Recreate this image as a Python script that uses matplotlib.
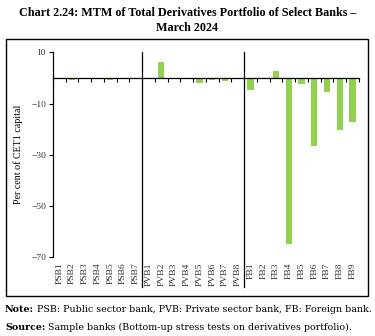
import numpy as np
import matplotlib
matplotlib.use("Agg")
import matplotlib.pyplot as plt
from matplotlib.patches import Rectangle

banks = ["PSB1", "PSB2", "PSB3", "PSB4", "PSB5", "PSB6", "PSB7",
         "PVB1", "PVB2", "PVB3", "PVB4", "PVB5", "PVB6", "PVB7", "PVB8",
         "FB1", "FB2", "FB3", "FB4", "FB5", "FB6", "FB7", "FB8", "FB9"]
mtm = [-0.5, -0.9, 0.0, 0.0, -0.7, 0.0, 0.0,
       0.0, 6.2, -0.5, 0.0, -2.0, -0.8, -1.2, 0.0,
       -4.6, 0.0, 2.6, -65.0, -2.2, -26.4, -5.5, -20.5, -17.2]
group_sizes = [7, 8, 9]
yticks = [10, -10, -30, -50, -70]

plt.rcParams['font.family'] = ['Liberation Serif', 'DejaVu Serif']

fig = plt.figure(figsize=(3.75, 3.36), dpi=100)
ax = fig.add_axes([0.1413, 0.2342, 0.8157, 0.6101])

x = np.arange(len(banks))
ax.bar(x, mtm, width=0.48, color="#92D050", zorder=2)

ax.set_xlim(-0.5, len(banks) - 0.5)
ax.set_ylim(-70, 10)
ax.set_yticks(yticks)
ax.tick_params(axis="y", labelsize=6.8, length=3, width=0.8, pad=2,
               labelcolor="#333333")
ax.set_ylabel("Per cent of CET1 capital", fontsize=7.2, labelpad=6)

for s in ["top", "right"]:
    ax.spines[s].set_visible(False)
ax.spines["bottom"].set_position(("data", 0))
ax.spines["bottom"].set_linewidth(0.9)
ax.spines["left"].set_linewidth(0.9)
ax.set_xticks(np.arange(-0.5, len(banks), 1.0))
ax.set_xticklabels([])
ax.tick_params(axis="x", direction="out", length=3, width=0.8)

# bank names along the bottom
trans = ax.get_xaxis_transform()
for xi, name in zip(x, banks):
    ax.text(xi, -0.025, name, transform=trans, rotation=90, ha="center",
            va="top", fontsize=6.8, color="#333333")

# group separators
edges = np.cumsum(group_sizes)[:-1] - 0.5
for e in edges:
    ax.plot([e, e], [-0.145, 1.0], transform=trans, color="black",
            lw=0.9, clip_on=False, zorder=3)

# outer frame
fig.patches.append(Rectangle((6 / 375, 1 - 296 / 336), 362 / 375, 257 / 336,
                             transform=fig.transFigure, fill=False,
                             edgecolor="black", lw=1.0))

fig.text(0.5, 1 - 13 / 336,
         "Chart 2.24: MTM of Total Derivatives Portfolio of Select Banks \u2013",
         ha="center", va="center", fontsize=8.7, fontweight="bold")
fig.text(0.5, 1 - 28 / 336, "March 2024", ha="center", va="center",
         fontsize=8.7, fontweight="bold")

# notes: bold lead word followed by normal text
renderer = fig.canvas.get_renderer()
notes = [("Note:", " PSB: Public sector bank, PVB: Private sector bank, FB: Foreign bank.", 310),
         ("Source:", " Sample banks (Bottom-up stress tests on derivatives portfolio).", 327)]
for lead, rest, ypix in notes:
    t = fig.text(5 / 375, 1 - ypix / 336, lead, ha="left", va="center",
                 fontsize=6.8, fontweight="bold", family="DejaVu Serif")
    w = t.get_window_extent(renderer).width
    fig.text((5 + w) / 375, 1 - ypix / 336, rest, ha="left", va="center",
             fontsize=6.8, family="DejaVu Serif")

fig.savefig("out.png", dpi=100)
